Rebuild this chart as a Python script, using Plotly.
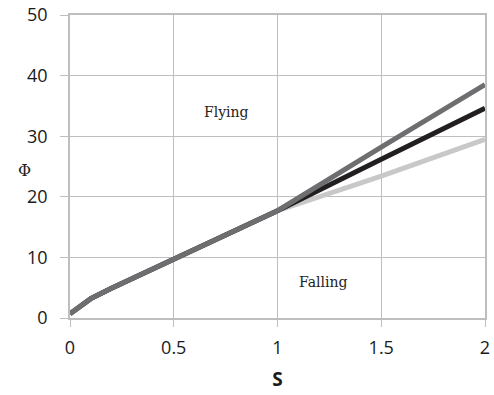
import plotly.graph_objects as go

s_common = [0, 0.1, 0.2, 0.3, 0.4, 0.5, 0.6, 0.7, 0.8, 0.9, 1.0]
phi_common = [0.7, 3.2, 4.9, 6.5, 8.1, 9.7, 11.3, 12.9, 14.5, 16.1, 17.7]

s_branch = [1.0, 1.5, 2.0]
phi_light = [17.7, 23.4, 29.5]
phi_black = [17.7, 26.2, 34.6]
phi_dark = [17.7, 28.2, 38.5]

x_ticks = [0, 0.5, 1, 1.5, 2]
x_labels = ["0", "0.5", "1", "1.5", "2"]
y_ticks = [0, 10, 20, 30, 40, 50]

fig = go.Figure()
series = [
    (phi_light, "#c8c8c8"),
    (phi_black, "#231f20"),
    (phi_dark, "#6e6e70"),
]
for vals, col in series:
    fig.add_trace(go.Scatter(
        x=s_common + s_branch[1:], y=phi_common + vals[1:],
        mode="lines", line=dict(color=col, width=5),
        showlegend=False, hoverinfo="skip"))

grid = "#bebebe"
fig.update_layout(
    width=494, height=395,
    margin=dict(l=70, r=9, t=15, b=77),
    plot_bgcolor="white", paper_bgcolor="white",
    font=dict(family="Open Sans", size=18, color="#1a1a1a"),
    xaxis=dict(range=[0, 2], tickvals=x_ticks, ticktext=x_labels, automargin=False,
               showgrid=True, gridcolor=grid, gridwidth=1,
               showline=True, linecolor=grid, linewidth=1.5, mirror=True,
               ticks="outside", ticklen=7, tickcolor=grid, zeroline=False,
               ticklabelstandoff=6,
               title=dict(text="<b>S</b>", font=dict(family="Open Sans", size=19, color="#1a1a1a"), standoff=14)),
    yaxis=dict(range=[0, 50], tickvals=y_ticks, automargin=False,
               showgrid=True, gridcolor=grid, gridwidth=1,
               showline=True, linecolor=grid, linewidth=1.5, mirror=True,
               ticks="outside", ticklen=8, tickcolor=grid, zeroline=False,
               ticklabelstandoff=9),
    annotations=[
        dict(text="Flying", x=0.755, y=34.0, xref="x", yref="y", showarrow=False,
             font=dict(family="DejaVu Serif", size=14, color="#222222")),
        dict(text="Falling", x=1.22, y=6.0, xref="x", yref="y", showarrow=False,
             font=dict(family="DejaVu Serif", size=14, color="#222222")),
        dict(text="Φ", x=(24 - 70) / 415, y=(395 - 77 - 170) / 303, xref="paper", yref="paper",
             showarrow=False, xanchor="center", yanchor="middle",
             font=dict(family="DejaVu Serif", size=16, color="#222222")),
    ],
)

fig.write_html("out.html", config={"displayModeBar": False},
               post_script="document.body.style.margin='0px';")
